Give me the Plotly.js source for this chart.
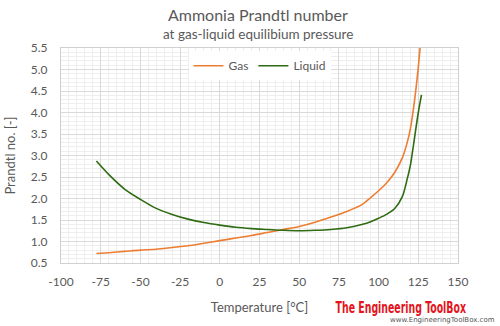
<!DOCTYPE html>
<html>
<head>
<meta charset="utf-8">
<script src="https://cdn.plot.ly/plotly-3.0.1.min.js"></script>
<style>html,body{margin:0;padding:0;background:#fff;}#chart{width:500px;height:326px;}</style>
</head>
<body>
<div id="chart"></div>
<script>
const temperature = [-77.7, -70, -60, -50, -40, -30, -20, -10, 0, 10, 20, 30, 40, 50, 60, 70, 80, 90, 95, 100, 105, 110, 115, 118, 120, 122, 125, 127];
const gasPrandtl = [0.72, 0.74, 0.77, 0.80, 0.82, 0.86, 0.90, 0.96, 1.02, 1.08, 1.14, 1.21, 1.28, 1.35, 1.45, 1.57, 1.70, 1.87, 2.02, 2.18, 2.36, 2.60, 2.95, 3.30, 3.62, 4.10, 5.05, 5.90];
const liquidPrandtl = [2.87, 2.56, 2.22, 1.98, 1.77, 1.63, 1.52, 1.44, 1.38, 1.33, 1.30, 1.28, 1.26, 1.25, 1.26, 1.28, 1.32, 1.40, 1.46, 1.54, 1.63, 1.76, 2.05, 2.45, 2.77, 3.25, 4.00, 4.41];
const xTicks = [-100, -75, -50, -25, 0, 25, 50, 75, 100, 125, 150];
const yTicks = [0.5, 1.0, 1.5, 2.0, 2.5, 3.0, 3.5, 4.0, 4.5, 5.0, 5.5];

const FONT = 'Lato, "Open Sans", sans-serif';
const GRAY = '#595959';

const traces = [
  {x: temperature, y: gasPrandtl, name: 'Gas', mode: 'lines', line: {color: '#ED7D31', width: 1.6, shape: 'spline', smoothing: 0.8}},
  {x: temperature, y: liquidPrandtl, name: 'Liquid', mode: 'lines', line: {color: '#2E6B12', width: 1.6, shape: 'spline', smoothing: 0.8}}
];

const pw = 500 - 61 - 42, ph = 326 - 48 - 63;
function px(x) { return (x - 61) / pw; }
function py(y) { return (326 - 63 - y) / ph; }

const layout = {
  width: 500, height: 326,
  margin: {l: 61, r: 42, t: 48, b: 63},
  paper_bgcolor: '#fff', plot_bgcolor: '#fff',
  font: {family: FONT, color: GRAY, size: 12},
  showlegend: true,
  legend: {orientation: 'h', x: 0.5, xanchor: 'center', y: 0.985, yanchor: 'top', bgcolor: '#fff', font: {size: 12, color: GRAY}, itemwidth: 30},
  xaxis: {
    range: [-100, 150], tickvals: xTicks, ticktext: xTicks.map(String),
    showgrid: true, gridcolor: '#D9D9D9', gridwidth: 1,
    minor: {dtick: 5, showgrid: true, gridcolor: '#EEEEEE', gridwidth: 1},
    zeroline: false, showline: true, linecolor: '#D0D0D0', mirror: true,
    ticks: '', ticklabelstandoff: 8, tickfont: {size: 12, color: GRAY},
    title: {text: 'Temperature [°C]', font: {size: 13, color: GRAY}, standoff: 14}
  },
  yaxis: {
    range: [0.5, 5.5], tickvals: yTicks, ticktext: yTicks.map(v => v.toFixed(1)),
    showgrid: true, gridcolor: '#D9D9D9', gridwidth: 1,
    minor: {dtick: 0.1, showgrid: true, gridcolor: '#EEEEEE', gridwidth: 1},
    zeroline: false, showline: true, linecolor: '#D0D0D0', mirror: true,
    ticks: '', ticklabelstandoff: 10, tickfont: {size: 12, color: GRAY},
    title: {text: 'Prandtl no. [-]', font: {size: 13, color: GRAY}, standoff: 12}
  },
  annotations: [
    {text: 'Ammonia Prandtl number', xref: 'paper', yref: 'paper', x: px(258), y: py(15), xanchor: 'center', yanchor: 'middle', showarrow: false, font: {size: 16, color: GRAY}},
    {text: 'at gas-liquid equilibium pressure', xref: 'paper', yref: 'paper', x: px(258), y: py(34), xanchor: 'center', yanchor: 'middle', showarrow: false, font: {size: 13.5, color: GRAY}},
    {text: '<b>The Engineering ToolBox</b>', xref: 'paper', yref: 'paper', x: px(401), y: py(307), xanchor: 'center', yanchor: 'middle', showarrow: false, font: {family: '"DejaVu Sans Condensed", "DejaVu Sans", sans-serif', size: 11, color: '#E5141C'}},
    {text: 'www.EngineeringToolBox.com', xref: 'paper', yref: 'paper', x: px(497), y: py(320), xanchor: 'right', yanchor: 'middle', showarrow: false, font: {family: 'DejaVu Sans, sans-serif', size: 7, color: '#555'}}
  ]
};

Plotly.newPlot('chart', traces, layout, {displayModeBar: false, staticPlot: true}).then(function () {
  // condense horizontally and stretch vertically to match the logo lettering
  document.querySelectorAll('.annotation-text').forEach(function (t) {
    if (t.textContent.indexOf('The Engineering') === 0) {
      const bb = t.getBBox();
      const cx = bb.x + bb.width / 2, cy = bb.y + bb.height / 2;
      const sx = 131 / bb.width, sy = 1.5;
      const prev = t.getAttribute('transform') || '';
      t.setAttribute('transform', prev + ' translate(' + cx + ',' + cy + ') scale(' + sx + ',' + sy + ') translate(' + (-cx) + ',' + (-cy) + ')');
    }
  });
});
</script>
</body>
</html>
